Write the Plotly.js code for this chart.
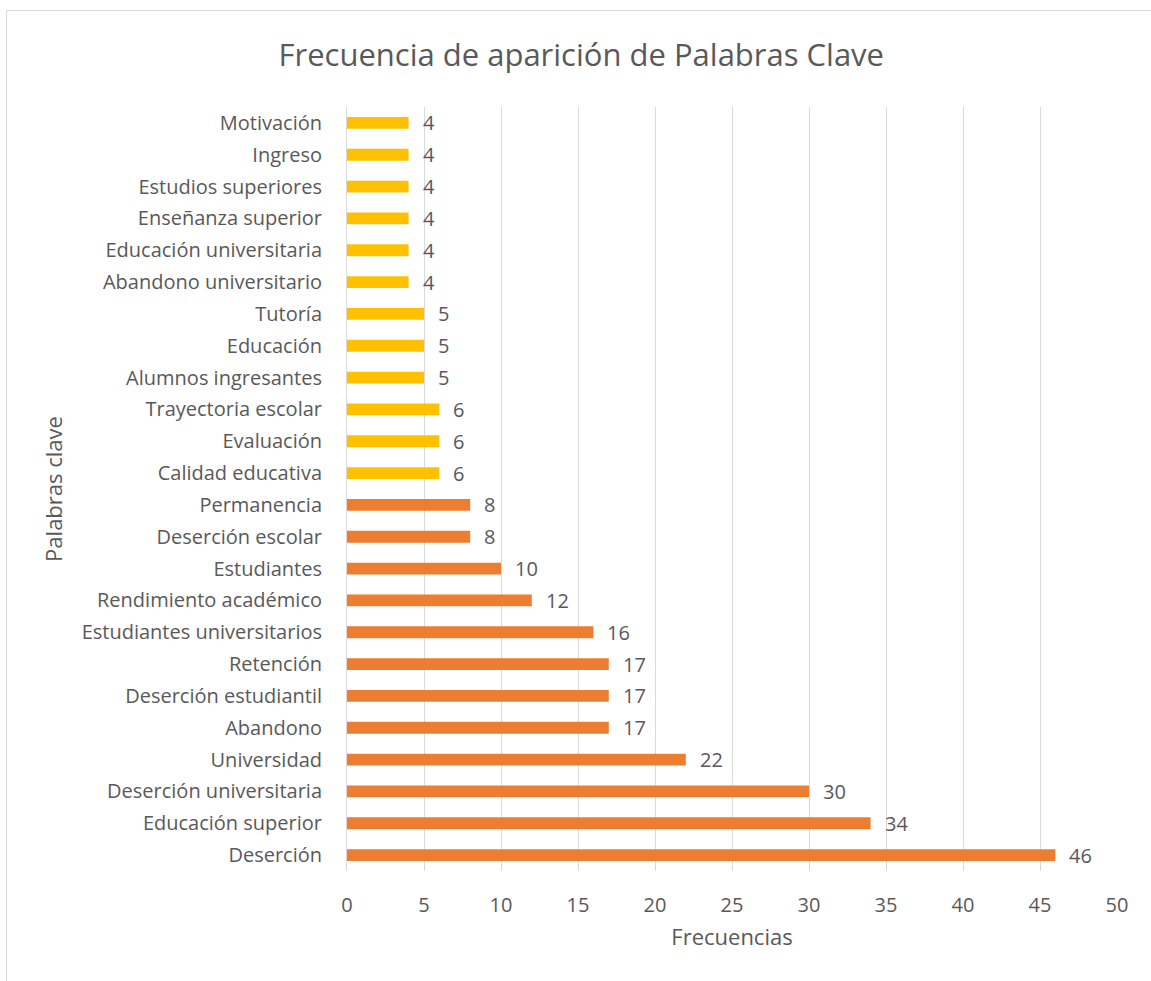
<!DOCTYPE html>
<html>
<head>
<meta charset="utf-8">
<script src="https://cdn.plot.ly/plotly-3.0.1.min.js"></script>
<style>
  html, body { margin: 0; padding: 0; background: #ffffff; }
  #chart { position: absolute; left: 0; top: 0; width: 1151px; height: 981px; }
  #frame { position: absolute; left: 6px; top: 10px; width: 1145px; height: 971px;
           border-left: 1px solid #d9d9d9; border-top: 1px solid #d9d9d9;
           pointer-events: none; box-sizing: border-box; }
</style>
</head>
<body>
<div id="chart"></div>
<div id="frame"></div>
<script>
// Categories listed bottom to top
const keywords = [
  "Deserción", "Educación superior", "Deserción universitaria", "Universidad",
  "Abandono", "Deserción estudiantil", "Retención", "Estudiantes universitarios",
  "Rendimiento académico", "Estudiantes", "Deserción escolar", "Permanencia",
  "Calidad educativa", "Evaluación", "Trayectoria escolar", "Alumnos ingresantes",
  "Educación", "Tutoría", "Abandono universitario", "Educación universitaria",
  "Enseñanza superior", "Estudios superiores", "Ingreso", "Motivación"
];
const frequencies = [46, 34, 30, 22, 17, 17, 17, 16, 12, 10, 8, 8, 6, 6, 6, 5, 5, 5, 4, 4, 4, 4, 4, 4];
// Group: "alta" (orange) for the top 12, "baja" (yellow) for the rest
const groups = ["alta","alta","alta","alta","alta","alta","alta","alta","alta","alta","alta","alta",
                "baja","baja","baja","baja","baja","baja","baja","baja","baja","baja","baja","baja"];
const groupColors = { alta: "#ED7D31", baja: "#FFC000" };

const textColor = "#595959";
const fontFam = "'Open Sans', 'Noto Sans', sans-serif";

const trace = {
  type: "bar",
  orientation: "h",
  x: frequencies,
  y: keywords,
  width: 0.37,
  marker: { color: groups.map(g => groupColors[g]) },
  hoverinfo: "x+y"
};

const annotations = keywords.map((k, i) => ({
  x: frequencies[i], y: k, xref: "x", yref: "y",
  text: String(frequencies[i]), showarrow: false,
  xanchor: "left", xshift: 12,
  font: { family: fontFam, size: 20, color: textColor }
}));

const layout = {
  width: 1151, height: 981,
  paper_bgcolor: "rgba(0,0,0,0)",
  plot_bgcolor: "#ffffff",
  margin: { l: 347, r: 34, t: 107, b: 110, pad: 0 },
  title: {
    text: "Frecuencia de aparición de Palabras Clave",
    font: { family: fontFam, size: 31, color: textColor },
    x: 0.505, xanchor: "center", y: 0.944, yanchor: "middle"
  },
  xaxis: {
    range: [0, 50],
    dtick: 5,
    showgrid: true, gridcolor: "#d9d9d9", gridwidth: 1,
    zeroline: false, showline: false,
    ticks: "", ticklabelstandoff: 20,
    tickfont: { family: fontFam, size: 20, color: textColor },
    title: { text: "Frecuencias", font: { family: fontFam, size: 22, color: textColor }, standoff: 12 },
    fixedrange: true
  },
  yaxis: {
    type: "category",
    categoryorder: "array", categoryarray: keywords,
    showgrid: false, zeroline: false,
    showline: true, linecolor: "#d9d9d9", linewidth: 1,
    ticks: "", ticklabelstandoff: 20,
    tickfont: { family: fontFam, size: 20, color: textColor },
    title: { text: "Palabras clave", font: { family: fontFam, size: 22, color: textColor }, standoff: 12 },
    automargin: false,
    fixedrange: true
  },
  annotations: annotations,
  showlegend: false,
  bargap: 0.6
};

Plotly.newPlot("chart", [trace], layout, { displayModeBar: false, staticPlot: true });
</script>
</body>
</html>
